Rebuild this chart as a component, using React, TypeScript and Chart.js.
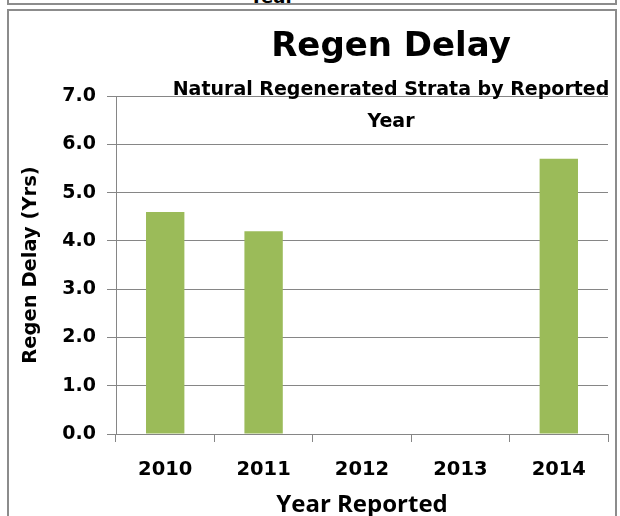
import React, { useEffect, useRef } from "react";
import { Chart, registerables } from "chart.js";

Chart.register(...registerables);

const categories = ["2010", "2011", "2012", "2013", "2014"];
const regenDelay: (number | null)[] = [4.6, 4.2, null, null, 5.7];
const titleText = "Regen Delay";
const subtitleLines = ["Natural Regenerated Strata by Reported", "Year"];
const xTitle = "Year Reported";
const yTitle = "Regen Delay (Yrs)";

const FONT = "'DejaVu Sans', sans-serif";
const FONT2 = "'Open Sans', sans-serif";

export default function App() {
  const ref = useRef<HTMLCanvasElement | null>(null);

  useEffect(() => {
    if (!ref.current) return;
    const titlePlugin = {
      id: "customTitles",
      afterDraw(chart: any) {
        const ctx = chart.ctx;
        const cx = 391;
        ctx.save();
        ctx.fillStyle = "#000";
        ctx.textAlign = "center";
        ctx.textBaseline = "alphabetic";
        ctx.font = `bold 34px ${FONT}`;
        ctx.fillText(titleText, cx, 56);
        ctx.font = `bold 19px ${FONT}`;
        ctx.fillText(subtitleLines[0], cx, 95);
        ctx.fillText(subtitleLines[1], cx, 127);
        ctx.restore();
      },
    };
    const chart = new Chart(ref.current, {
      type: "bar",
      data: {
        labels: categories,
        datasets: [
          {
            data: regenDelay,
            backgroundColor: "#9BBB59",
            borderWidth: 0,
            categoryPercentage: 1,
            barPercentage: 0.39,
          },
        ],
      },
      plugins: [titlePlugin],
      options: {
        responsive: false,
        animation: false,
        layout: { padding: { left: 0, right: 12, top: 96, bottom: 0 } },
        plugins: {
          legend: { display: false },
          tooltip: { enabled: false },
          title: { display: false },
        },
        scales: {
          x: {
            grid: {
              drawOnChartArea: false,
              drawTicks: true,
              tickLength: 8,
              color: "#868686",
              offset: true,
            },
            border: { color: "#868686", width: 1 },
            ticks: {
              color: "#000",
              font: { family: FONT, size: 19.5, weight: "bold" },
              padding: 16,
              maxRotation: 0,
            },
            title: {
              display: true,
              text: xTitle,
              color: "#000",
              font: { family: FONT2, size: 24, weight: "bold" },
              padding: { top: 0, bottom: -4 },
            },
            afterFit: (s: any) => {
              s.height = 82;
            },
          },
          y: {
            min: 0,
            max: 7,
            grid: {
              color: "#868686",
              drawTicks: true,
              tickLength: 9,
            },
            border: { color: "#868686", width: 1 },
            ticks: {
              stepSize: 1,
              color: "#000",
              padding: 11,
              font: { family: FONT, size: 19, weight: "bold" },
              callback: (v: any) => Number(v).toFixed(1),
            },
            title: {
              display: true,
              text: yTitle,
              color: "#000",
              font: { family: FONT, size: 19.5, weight: "bold" },
              padding: { top: 19, bottom: 0 },
            },
            afterFit: (s: any) => {
              s.width = 116;
            },
          },
        },
      },
    });
    return () => chart.destroy();
  }, []);

  return (
    <div
      style={{
        position: "fixed",
        left: 0,
        top: 0,
        width: 620,
        height: 516,
        background: "#fff",
        overflow: "hidden",
      }}
    >
      <div
        style={{
          position: "absolute",
          left: 7,
          top: -20,
          width: 606,
          height: 21,
          border: "2px solid #8c8c8c",
          overflow: "hidden",
          fontFamily: FONT,
          fontWeight: "bold",
          fontSize: 18,
          textAlign: "center",
          lineHeight: "30px",
        }}
      >
        <span style={{ position: "relative", left: -40 }}>Year</span>
      </div>
      <div
        style={{
          position: "absolute",
          left: 7,
          top: 9,
          width: 606,
          height: 530,
          border: "2px solid #8c8c8c",
        }}
      />
      <canvas
        ref={ref}
        width={620}
        height={516}
        style={{ position: "absolute", left: 0, top: 0, width: 620, height: 516 }}
      />
    </div>
  );
}
